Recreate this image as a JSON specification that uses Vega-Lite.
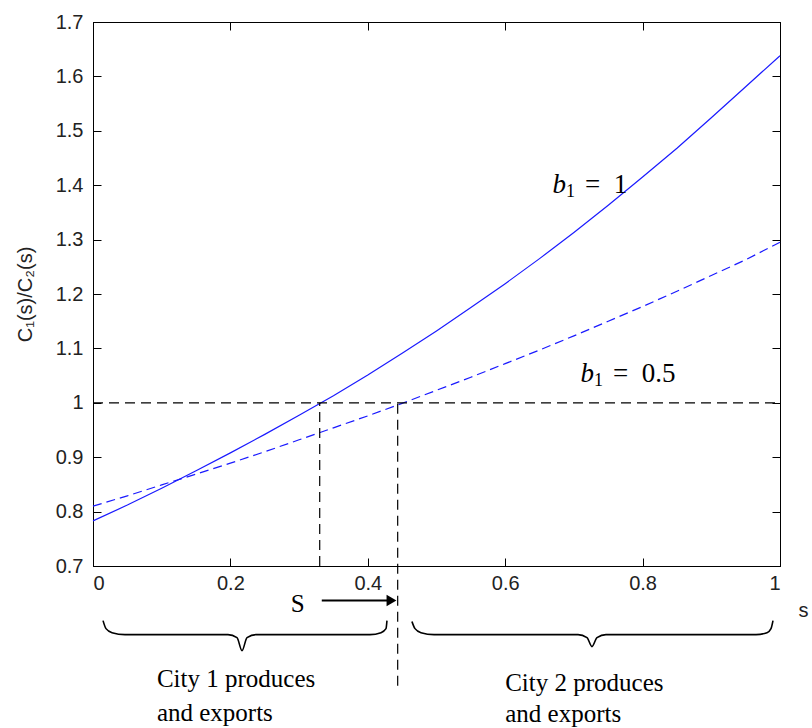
{
  "$schema": "https://vega.github.io/schema/vega-lite/v6.json",
  "width": 687,
  "height": 544,
  "autosize": {"type": "none"},
  "padding": {"left": 93, "top": 22, "right": 32, "bottom": 162},
  "background": "white",
  "config": {
    "view": {"stroke": "#000", "strokeWidth": 1},
    "axis": {
      "labelFont": "Liberation Sans",
      "labelFontSize": 20,
      "labelColor": "#222",
      "titleFont": "Liberation Sans",
      "titleFontSize": 20,
      "titleFontWeight": "normal",
      "titleColor": "#222",
      "domainColor": "#000",
      "tickColor": "#000",
      "grid": false
    },
    "text": {"font": "Liberation Serif", "color": "#000"}
  },
  "datasets": {
    "solid": [
      {"s": 0, "v": 0.783}, {"s": 0.05, "v": 0.812}, {"s": 0.1, "v": 0.843}, {"s": 0.15, "v": 0.875},
      {"s": 0.2, "v": 0.908}, {"s": 0.25, "v": 0.942}, {"s": 0.3, "v": 0.977}, {"s": 0.35, "v": 1.013},
      {"s": 0.4, "v": 1.051}, {"s": 0.45, "v": 1.091}, {"s": 0.5, "v": 1.132}, {"s": 0.55, "v": 1.175},
      {"s": 0.6, "v": 1.219}, {"s": 0.65, "v": 1.265}, {"s": 0.7, "v": 1.313}, {"s": 0.75, "v": 1.363},
      {"s": 0.8, "v": 1.415}, {"s": 0.85, "v": 1.468}, {"s": 0.9, "v": 1.524}, {"s": 0.95, "v": 1.581},
      {"s": 1, "v": 1.638}
    ],
    "dashed": [
      {"s": 0, "v": 0.81}, {"s": 0.05, "v": 0.829}, {"s": 0.1, "v": 0.849}, {"s": 0.15, "v": 0.869},
      {"s": 0.2, "v": 0.889}, {"s": 0.25, "v": 0.91}, {"s": 0.3, "v": 0.932}, {"s": 0.35, "v": 0.954},
      {"s": 0.4, "v": 0.976}, {"s": 0.45, "v": 0.999}, {"s": 0.5, "v": 1.023}, {"s": 0.55, "v": 1.047},
      {"s": 0.6, "v": 1.072}, {"s": 0.65, "v": 1.097}, {"s": 0.7, "v": 1.123}, {"s": 0.75, "v": 1.15},
      {"s": 0.8, "v": 1.177}, {"s": 0.85, "v": 1.205}, {"s": 0.9, "v": 1.234}, {"s": 0.95, "v": 1.263},
      {"s": 1, "v": 1.295}
    ],
    "refs": [
      {"s": 0, "s2": 1, "v": 1, "v2": 1},
      {"s": 0.33, "s2": 0.33, "v": 0.7, "v2": 1},
      {"s": 0.4435, "s2": 0.4435, "v": 0.48, "v2": 1}
    ],
    "braces": [
      {"brace": 1, "s": 0.0146, "v": 0.5996}, {"brace": 1, "s": 0.0189, "v": 0.5849},
      {"brace": 1, "s": 0.0277, "v": 0.5775}, {"brace": 1, "s": 0.0466, "v": 0.5738},
      {"brace": 1, "s": 0.1965, "v": 0.5738}, {"brace": 1, "s": 0.2096, "v": 0.5683},
      {"brace": 1, "s": 0.2169, "v": 0.5444}, {"brace": 1, "s": 0.2242, "v": 0.5683},
      {"brace": 1, "s": 0.2373, "v": 0.5738}, {"brace": 1, "s": 0.4032, "v": 0.5738},
      {"brace": 1, "s": 0.4192, "v": 0.5775}, {"brace": 1, "s": 0.4265, "v": 0.5849},
      {"brace": 1, "s": 0.4279, "v": 0.5996},
      {"brace": 2, "s": 0.4643, "v": 0.5978}, {"brace": 2, "s": 0.4687, "v": 0.5849},
      {"brace": 2, "s": 0.4774, "v": 0.5775}, {"brace": 2, "s": 0.4964, "v": 0.5738},
      {"brace": 2, "s": 0.706, "v": 0.5738}, {"brace": 2, "s": 0.7191, "v": 0.5683},
      {"brace": 2, "s": 0.7263, "v": 0.5518}, {"brace": 2, "s": 0.7336, "v": 0.5683},
      {"brace": 2, "s": 0.7467, "v": 0.5738}, {"brace": 2, "s": 0.9651, "v": 0.5738},
      {"brace": 2, "s": 0.9811, "v": 0.5775}, {"brace": 2, "s": 0.9869, "v": 0.5849},
      {"brace": 2, "s": 0.9898, "v": 0.5996}
    ],
    "notes": [
      {"s": 0.093, "v": 0.4928, "t": "City 1 produces"},
      {"s": 0.093, "v": 0.4302, "t": "and exports"},
      {"s": 0.6, "v": 0.4854, "t": "City 2 produces"},
      {"s": 0.6, "v": 0.4284, "t": "and exports"}
    ],
    "blabels": [
      {"s": 0.6885, "v": 1.386, "rest": "=\u00a0 1"},
      {"s": 0.7293, "v": 1.0374, "rest": "=\u00a0 0.5"}
    ],
    "arrow": [
      {"s": 0.333, "s2": 0.43, "v": 0.6365, "head": 0.4345, "label": "S", "ls": 0.298, "lv": 0.631}
    ]
  },
  "layer": [
    {
      "data": {"name": "solid"},
      "mark": {"type": "line", "color": "#1a1aff", "strokeWidth": 1.2, "clip": false},
      "encoding": {
        "x": {
          "field": "s", "type": "quantitative",
          "scale": {"domain": [0, 1], "nice": false, "zero": false},
          "axis": {
            "orient": "bottom", "values": [0, 0.2, 0.4, 0.6, 0.8, 1], "format": "~g",
            "tickSize": -8, "labelPadding": 15, "title": "s",
            "titleX": 710, "titleY": 44, "titleAlign": "center", "titleBaseline": "middle"
          }
        },
        "y": {
          "field": "v", "type": "quantitative",
          "scale": {"domain": [0.7, 1.7], "nice": false, "zero": false},
          "axis": {
            "orient": "left", "values": [0.7, 0.8, 0.9, 1, 1.1, 1.2, 1.3, 1.4, 1.5, 1.6, 1.7], "format": "~g",
            "tickSize": -8, "labelPadding": 18, "title": "C\u2081(s)/C\u2082(s)",
            "titleX": -68, "titleY": 272, "titleAngle": -90, "titleAlign": "center", "titleBaseline": "middle"
          }
        }
      }
    },
    {
      "data": {"name": "dashed"},
      "mark": {"type": "line", "color": "#1a1aff", "strokeWidth": 1.2, "strokeDash": [9, 5], "clip": false},
      "encoding": {
        "x": {
          "field": "s", "type": "quantitative",
          "axis": {"orient": "top", "values": [0, 0.2, 0.4, 0.6, 0.8, 1], "labels": false, "tickSize": -8, "title": null}
        },
        "y": {
          "field": "v", "type": "quantitative",
          "axis": {"orient": "right", "values": [0.7, 0.8, 0.9, 1, 1.1, 1.2, 1.3, 1.4, 1.5, 1.6, 1.7], "labels": false, "tickSize": -8, "title": null}
        }
      }
    },
    {
      "data": {"name": "refs"},
      "mark": {"type": "rule", "color": "#000", "strokeWidth": 1.2, "strokeDash": [10, 6], "clip": false},
      "encoding": {
        "x": {"field": "s", "type": "quantitative", "axis": null},
        "x2": {"field": "s2"},
        "y": {"field": "v", "type": "quantitative", "axis": null},
        "y2": {"field": "v2"}
      }
    },
    {
      "data": {"name": "braces"},
      "mark": {"type": "line", "color": "#000", "strokeWidth": 1.6, "interpolate": "monotone", "clip": false},
      "encoding": {
        "x": {"field": "s", "type": "quantitative", "axis": null},
        "y": {"field": "v", "type": "quantitative", "axis": null},
        "detail": {"field": "brace", "type": "nominal"}
      }
    },
    {
      "data": {"name": "notes"},
      "mark": {"type": "text", "align": "left", "baseline": "middle", "fontSize": 25, "clip": false},
      "encoding": {
        "x": {"field": "s", "type": "quantitative", "axis": null},
        "y": {"field": "v", "type": "quantitative", "axis": null},
        "text": {"field": "t"}
      }
    },
    {
      "data": {"name": "blabels"},
      "mark": {"type": "text", "text": "b", "align": "right", "baseline": "alphabetic", "fontSize": 27, "fontStyle": "italic", "clip": false},
      "encoding": {
        "x": {"field": "s", "type": "quantitative", "axis": null},
        "y": {"field": "v", "type": "quantitative", "axis": null}
      }
    },
    {
      "data": {"name": "blabels"},
      "mark": {"type": "text", "text": "1", "align": "left", "baseline": "alphabetic", "fontSize": 18, "dx": 0, "dy": 4, "clip": false},
      "encoding": {
        "x": {"field": "s", "type": "quantitative", "axis": null},
        "y": {"field": "v", "type": "quantitative", "axis": null}
      }
    },
    {
      "data": {"name": "blabels"},
      "mark": {"type": "text", "align": "left", "baseline": "alphabetic", "fontSize": 27, "dx": 19, "clip": false},
      "encoding": {
        "x": {"field": "s", "type": "quantitative", "axis": null},
        "y": {"field": "v", "type": "quantitative", "axis": null},
        "text": {"field": "rest"}
      }
    },
    {
      "data": {"name": "arrow"},
      "mark": {"type": "rule", "color": "#000", "strokeWidth": 2, "clip": false},
      "encoding": {
        "x": {"field": "s", "type": "quantitative", "axis": null},
        "x2": {"field": "s2"},
        "y": {"field": "v", "type": "quantitative", "axis": null}
      }
    },
    {
      "data": {"name": "arrow"},
      "mark": {"type": "point", "shape": "triangle-right", "filled": true, "color": "#000", "opacity": 1, "size": 130, "clip": false},
      "encoding": {
        "x": {"field": "head", "type": "quantitative", "axis": null},
        "y": {"field": "v", "type": "quantitative", "axis": null}
      }
    },
    {
      "data": {"name": "arrow"},
      "mark": {"type": "text", "align": "center", "baseline": "middle", "fontSize": 25, "clip": false},
      "encoding": {
        "x": {"field": "ls", "type": "quantitative", "axis": null},
        "y": {"field": "lv", "type": "quantitative", "axis": null},
        "text": {"field": "label"}
      }
    }
  ],
  "resolve": {"axis": {"x": "independent", "y": "independent"}}
}
